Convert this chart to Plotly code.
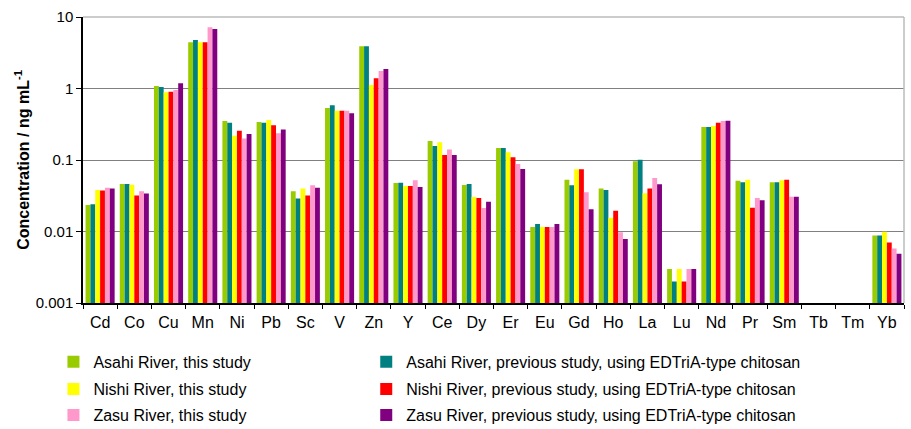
import plotly.graph_objects as go

elements = ["Cd", "Co", "Cu", "Mn", "Ni", "Pb", "Sc", "V", "Zn", "Y", "Ce", "Dy",
            "Er", "Eu", "Gd", "Ho", "La", "Lu", "Nd", "Pr", "Sm", "Tb", "Tm", "Yb"]

series_names = [
    "Asahi River, this study",
    "Asahi River, previous study, using EDTriA-type chitosan",
    "Nishi River, this study",
    "Nishi River, previous study, using EDTriA-type chitosan",
    "Zasu River, this study",
    "Zasu River, previous study, using EDTriA-type chitosan",
]

asahi_this = [0.0235, 0.046, 1.08, 4.43, 0.35, 0.34, 0.0365, 0.533, 3.9, 0.0476, 0.184, 0.0447,
              0.147, 0.0116, 0.053, 0.040, 0.096, 0.003, 0.29, 0.0514, 0.0488, None, None, 0.0088]
asahi_prev = [0.024, 0.046, 1.05, 4.77, 0.333, 0.333, 0.029, 0.582, 3.9, 0.048, 0.157, 0.046,
              0.147, 0.0127, 0.0443, 0.038, 0.101, 0.002, 0.29, 0.0488, 0.0488, None, None, 0.0088]
nishi_this = [0.038, 0.045, 0.885, 4.45, 0.219, 0.363, 0.040, 0.49, 1.12, 0.0433, 0.177, 0.0304,
              0.128, 0.0116, 0.074, 0.0156, 0.0342, 0.003, 0.30, 0.053, 0.052, None, None, 0.0099]
nishi_prev = [0.0375, 0.032, 0.90, 4.45, 0.257, 0.305, 0.032, 0.49, 1.39, 0.0433, 0.117, 0.0295,
              0.109, 0.0116, 0.074, 0.0195, 0.040, 0.002, 0.333, 0.0215, 0.053, None, None, 0.0070]
zasu_this = [0.041, 0.0365, 0.95, 7.2, 0.20, 0.236, 0.0443, 0.49, 1.76, 0.052, 0.14, 0.0214,
             0.088, 0.0116, 0.0353, 0.0098, 0.056, 0.003, 0.35, 0.0295, 0.0307, None, None, 0.0058]
zasu_prev = [0.040, 0.034, 1.18, 6.8, 0.231, 0.268, 0.041, 0.45, 1.87, 0.0419, 0.117, 0.026,
             0.0748, 0.0127, 0.0204, 0.00785, 0.0457, 0.003, 0.353, 0.0273, 0.0307, None, None, 0.0049]

y_tick_vals = [0.001, 0.01, 0.1, 1, 10]
y_tick_text = ["0.001", "0.01", "0.1", "1", "10"]

all_series = [asahi_this, asahi_prev, nishi_this, nishi_prev, zasu_this, zasu_prev]
colors = ["#99CC00", "#008080", "#FFFF00", "#FF0000", "#FF99CC", "#800080"]
legend_ids = ["legend", "legend2", "legend3", "legend4", "legend5", "legend6"]
# legend placement (paper coords): column x, row y
leg_x = [-0.036, 0.345, -0.036, 0.345, -0.036, 0.345]
leg_y = [-0.206, -0.206, -0.301, -0.301, -0.392, -0.392]

FONT = "Arial, Liberation Sans, sans-serif"

fig = go.Figure()
for name, vals, col, lg in zip(series_names, all_series, colors, legend_ids):
    fig.add_trace(go.Bar(x=elements, y=vals, name=name, marker_color=col,
                         marker_line_width=0, legend=lg, showlegend=True))

legends = {}
for lg, lx, ly in zip(legend_ids, leg_x, leg_y):
    legends[lg] = dict(orientation="h", xanchor="left", yanchor="middle", x=lx, y=ly,
                       font=dict(family=FONT, size=16, color="#000"),
                       bgcolor="rgba(0,0,0,0)", visible=True)

fig.update_layout(
    width=911, height=429, showlegend=True,
    margin=dict(l=83, r=7, t=17, b=126, autoexpand=False),
    paper_bgcolor="white", plot_bgcolor="white",
    barmode="group", bargap=0.15, bargroupgap=0,
    font=dict(family=FONT, size=15, color="#000"),
    xaxis=dict(showline=True, linecolor="#000", linewidth=1.5, ticks="outside",
               tickson="boundaries", ticklen=4, tickcolor="#000", automargin=False,
               range=[-0.5, len(elements) - 0.5], ticklabelstandoff=4,
               tickfont=dict(size=16, family=FONT), showgrid=False),
    yaxis=dict(type="log", range=[-3, 1], tickvals=y_tick_vals, ticktext=y_tick_text,
               showline=True, linecolor="#000", linewidth=1.5, ticks="outside", ticklen=5,
               tickcolor="#000", showgrid=True, gridcolor="#808080", gridwidth=1,
               tickfont=dict(size=15, family=FONT), zeroline=False, automargin=False,
               title=dict(text="<b>Concentration / ng mL<sup>-1</sup></b>",
                          font=dict(size=16, family=FONT), standoff=2)),
    shapes=[dict(type="line", xref="paper", yref="paper", x0=1, x1=1, y0=0, y1=1,
                 line=dict(color="#BBBBBB", width=1.5)),
            dict(type="line", xref="paper", yref="paper", x0=0, x1=1, y0=1, y1=1,
                 line=dict(color="#BBBBBB", width=1.5))],
    **legends,
)

fig.write_html("out.html", config={"displayModeBar": False},
               post_script="document.body.style.margin='0';document.body.style.overflow='hidden';")
